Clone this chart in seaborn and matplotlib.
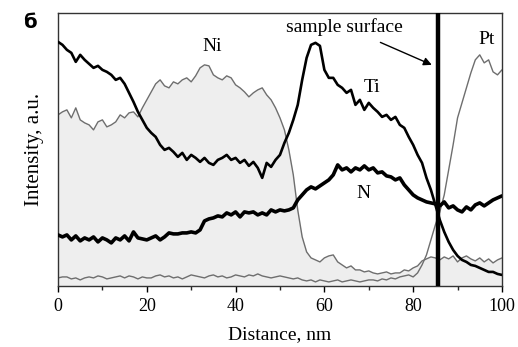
import matplotlib
matplotlib.use("Agg")
import matplotlib.pyplot as plt
import seaborn as sns
import numpy as np
import pandas as pd

sns.set_theme(style="white")
plt.rcParams['font.family'] = ['Liberation Serif', 'DejaVu Serif']

distance = list(range(0, 101))

ti = [244, 241, 236, 233, 224, 231, 226, 222, 218, 220,
      216, 214, 211, 206, 208, 202, 193, 184, 174, 166,
      158, 153, 149, 141, 136, 138, 134, 129, 133, 126,
      131, 128, 124, 128, 123, 121, 126, 128, 131, 126,
      128, 123, 126, 120, 124, 118, 108, 123, 119, 126,
      131, 143, 153, 166, 181, 206, 228, 241, 243, 240,
      216, 208, 208, 201, 198, 193, 196, 181, 186, 176,
      183, 178, 174, 169, 171, 166, 169, 161, 158, 149,
      141, 131, 123, 108, 96, 81, 66, 54, 44, 36,
      30, 26, 24, 21, 20, 18, 16, 14, 14, 12, 11]

ni = [171, 174, 176, 168, 178, 166, 163, 161, 156, 164,
      166, 159, 161, 164, 171, 168, 173, 174, 169, 178,
      186, 194, 202, 206, 200, 198, 204, 202, 206, 208,
      204, 210, 218, 221, 220, 211, 208, 206, 210, 208,
      201, 198, 194, 189, 193, 196, 198, 191, 186, 178,
      168, 156, 136, 111, 76, 49, 34, 28, 26, 24,
      28, 30, 31, 24, 21, 18, 20, 16, 16, 14,
      15, 13, 12, 13, 14, 12, 13, 13, 16, 15,
      18, 20, 25, 27, 29, 28, 26, 29, 27, 30,
      24, 28, 30, 27, 25, 28, 24, 27, 23, 26, 28]

n = [51, 49, 51, 46, 50, 45, 48, 46, 49, 44,
     48, 46, 43, 48, 46, 50, 45, 54, 48, 47,
     46, 48, 50, 46, 49, 53, 52, 52, 53, 53,
     54, 53, 56, 65, 67, 68, 70, 69, 73, 71,
     74, 69, 74, 73, 74, 71, 73, 71, 76, 74,
     76, 75, 76, 78, 86, 91, 96, 99, 97, 100,
     103, 106, 111, 121, 116, 118, 114, 118, 116, 120,
     116, 118, 113, 114, 110, 109, 106, 108, 101, 96,
     91, 88, 86, 84, 83, 82, 80, 84, 78, 80,
     76, 74, 79, 76, 81, 83, 80, 83, 86, 88, 90]

pt = [8, 9, 9, 7, 8, 6, 8, 9, 8, 10,
      9, 7, 8, 9, 10, 8, 10, 9, 7, 9,
      8, 8, 10, 11, 9, 10, 8, 9, 7, 9,
      11, 10, 9, 8, 10, 11, 9, 10, 8, 9,
      11, 10, 9, 11, 10, 12, 10, 9, 8, 9,
      10, 9, 8, 7, 8, 6, 5, 6, 4, 6,
      5, 4, 5, 6, 4, 5, 6, 5, 4, 5,
      6, 6, 5, 7, 6, 8, 7, 9, 10, 11,
      9, 13, 21, 31, 46, 61, 74, 91, 116, 141,
      168, 183, 198, 213, 226, 231, 223, 226, 214, 211, 216]

surface_x = 85.5
x_ticks = [0, 20, 40, 60, 80, 100]

df = pd.DataFrame({"Distance": distance, "Ti": ti, "Ni": ni, "N": n, "Pt": pt})

fig = plt.figure(figsize=(5.18, 3.47), dpi=100)
ax = fig.add_axes([0.112, 0.176, 0.857, 0.787])

ax.fill_between(df["Distance"], 0, df["Ni"], color="#eeeeee", zorder=1, linewidth=0)
sns.lineplot(data=df, x="Distance", y="Ni", ax=ax, color="#6e6e6e", linewidth=1.0, zorder=2)
sns.lineplot(data=df, x="Distance", y="Pt", ax=ax, color="#6e6e6e", linewidth=1.0, zorder=2)
sns.lineplot(data=df, x="Distance", y="N", ax=ax, color="black", linewidth=2.6, zorder=3)
sns.lineplot(data=df, x="Distance", y="Ti", ax=ax, color="black", linewidth=1.9, zorder=4)
ax.axvline(surface_x, color="black", linewidth=3.2, zorder=5)

ax.set_xlim(0, 100)
ax.set_ylim(0, 273)
ax.set_xticks(x_ticks)
ax.set_xticks([10, 30, 50, 70, 90], minor=True)
ax.set_yticks([])
ax.tick_params(axis="x", which="major", direction="out", length=4, width=1, labelsize=13, pad=5, bottom=True, colors="black")
ax.tick_params(axis="x", which="minor", direction="out", length=3, width=1, bottom=True)
for s in ax.spines.values():
    s.set_color("#333333")
    s.set_linewidth(1.0)

ax.set_xlabel("Distance, nm", fontsize=14, labelpad=8, color="black")
ax.set_ylabel("Intensity, a.u.", fontsize=15, labelpad=10, color="black")

ax.text(34.7, 239, "Ni", fontsize=14, ha="center", va="center", color="black")
ax.text(70.7, 198, "Ti", fontsize=14, ha="center", va="center", color="black")
ax.text(68.7, 92, "N", fontsize=14, ha="center", va="center", color="black")
ax.text(96.6, 246, "Pt", fontsize=14, ha="center", va="center", color="black")
ax.annotate("sample surface", xy=(84.2, 221), xytext=(64.6, 259),
            fontsize=14, ha="center", va="center", color="black",
            arrowprops=dict(arrowstyle="-|>", color="black", lw=1.0, shrinkA=6, shrinkB=0,
                            mutation_scale=12))

fig.text(0.058, 0.935, "б", fontsize=14, fontweight="bold", family="DejaVu Sans",
         ha="center", va="center", color="black")

fig.savefig("out.png", dpi=100)
